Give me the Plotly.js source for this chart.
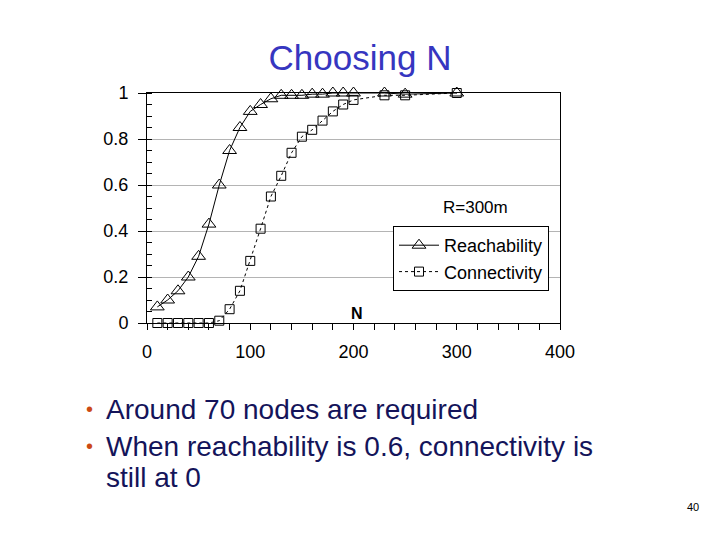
<!DOCTYPE html>
<html>
<head>
<meta charset="utf-8">
<script src="https://cdn.plot.ly/plotly-3.0.1.min.js"></script>
<style>
  html, body { margin: 0; padding: 0; background: #fff; }
  #plot { width: 720px; height: 540px; }
</style>
</head>
<body>
<div id="plot"></div>
<script>
// number of nodes
const nodeCounts = [10, 20, 30, 40, 50, 60, 70, 80, 90, 100, 110, 120, 130, 140, 150,
    160, 170, 180, 190, 200, 230, 250, 300];
const reachability = [0.07, 0.10, 0.14, 0.20, 0.29, 0.43, 0.60, 0.75, 0.85, 0.92, 0.95, 0.975, 0.99,
    0.99, 0.99, 0.995, 0.995, 1.0, 1.0, 1.0, 1.0, 0.995, 1.0];
const connectivity = [0, 0, 0, 0, 0, 0, 0.01, 0.06, 0.14, 0.27, 0.41, 0.55, 0.64,
    0.74, 0.81, 0.84, 0.88, 0.92, 0.95, 0.97, 0.99, 0.99, 1.0];

const bulletLines = [
    { text: 'Around 70 nodes are required', bullet: true },
    { text: 'When reachability is 0.6, connectivity is', bullet: true },
    { text: 'still at 0', bullet: false }
];

// plot area in pixels
const L = 147, R = 560, T = 93, B = 323;
const px = x => (x - L) / (R - L);
const py = y => (B - y) / (B - T);

const traceReach = {
    x: nodeCounts,
    y: reachability,
    mode: 'lines+markers',
    name: 'Reachability',
    line: { color: 'black', width: 1 },
    marker: { symbol: 'triangle-up-open', size: 12, color: 'black', line: { width: 1 } },
    cliponaxis: false
};
const traceConn = {
    x: nodeCounts,
    y: connectivity,
    mode: 'lines+markers',
    name: 'Connectivity',
    line: { color: 'black', width: 1, dash: 'dot' },
    marker: { symbol: 'square-open', size: 9, color: 'black', line: { width: 1 } },
    cliponaxis: false
};

const annotations = [
    { x: px(357), y: py(313), text: '<b>N</b>', font: { size: 16 } },
    { x: px(475), y: py(207), text: 'R=300m', font: { size: 17 } },
    { x: px(693), y: py(507), text: '40', font: { size: 11 } }
];
const lineY = [409, 446, 477];
bulletLines.forEach((l, i) => {
    annotations.push({
        x: px(104), y: py(lineY[i]), xanchor: 'left', text: l.text,
        font: { size: 28, color: '#14145a' }
    });
    if (l.bullet) {
        annotations.push({
            x: px(89), y: py(lineY[i]), text: '•',
            font: { size: 20, color: '#cc4a14' }
        });
    }
});
annotations.forEach(a => {
    a.xref = 'paper';
    a.yref = 'paper';
    a.showarrow = false;
    a.xanchor = a.xanchor || 'center';
    a.yanchor = 'middle';
});

const layout = {
    width: 720,
    height: 540,
    margin: { l: L, r: 720 - R, t: T, b: 540 - B, pad: 0 },
    paper_bgcolor: 'white',
    plot_bgcolor: 'white',
    font: { family: 'Liberation Sans, Arial, sans-serif', color: 'black', size: 17 },
    title: {
        text: 'Choosing N',
        x: 0.5,
        xanchor: 'center',
        y: 1 - 58 / 540,
        yanchor: 'middle',
        font: { size: 35, color: '#3636c0' }
    },
    xaxis: {
        range: [0, 400],
        dtick: 100,
        ticks: 'outside',
        ticklen: 6,
        tickcolor: 'black',
        tickfont: { size: 18 },
        minor: { dtick: 20, ticks: 'outside', ticklen: 6, tickcolor: 'black' },
        showgrid: false,
        zeroline: false,
        showline: true,
        linecolor: 'black',
        mirror: true,
        ticklabelstandoff: 6,
        fixedrange: true
    },
    yaxis: {
        range: [0, 1],
        dtick: 0.2,
        ticks: 'outside',
        ticklen: 8,
        tickcolor: 'black',
        tickfont: { size: 18 },
        minor: { dtick: 0.05, ticks: 'inside', ticklen: 5, tickcolor: 'black', showgrid: false },
        showgrid: true,
        gridcolor: '#b4b4b4',
        zeroline: false,
        showline: true,
        linecolor: 'black',
        mirror: true,
        ticklabelstandoff: 6,
        fixedrange: true
    },
    legend: {
        x: px(393),
        y: py(226),
        xanchor: 'left',
        yanchor: 'top',
        bgcolor: 'white',
        bordercolor: 'black',
        borderwidth: 1,
        font: { size: 18 },
        itemwidth: 40,
        tracegroupgap: 0
    },
    annotations: annotations
};

Plotly.newPlot('plot', [traceReach, traceConn], layout, { staticPlot: true });
</script>
</body>
</html>
